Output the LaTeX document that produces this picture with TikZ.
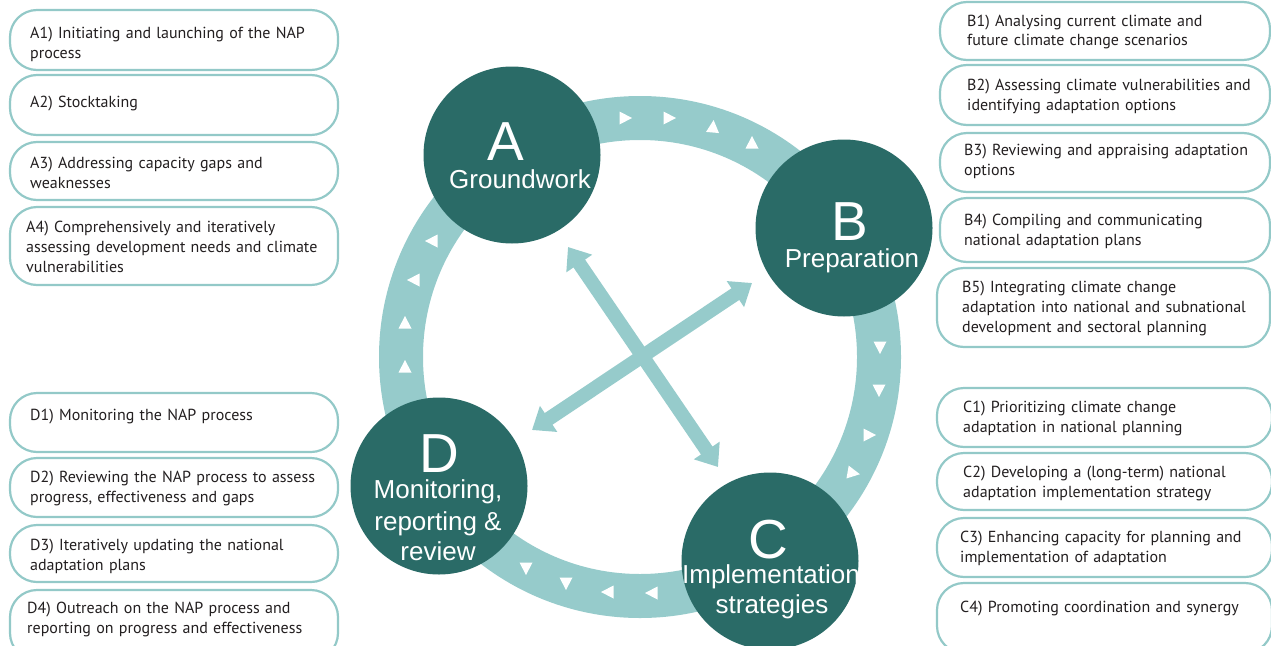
\documentclass[tikz,border=0pt]{standalone}
\usepackage{fontspec}
\setmainfont{PT Sans}
\newfontfamily\circfont{Liberation Sans}
\usetikzlibrary{arrows.meta}
\definecolor{darkteal}{HTML}{2A6B67}
\definecolor{lightteal}{HTML}{96CBCB}
\definecolor{boxline}{HTML}{93C9C8}
\definecolor{txtcol}{HTML}{231F20}
\newcommand\ringtri[4]{\fill[white,shift={(#2,#3)},rotate=#4] (7,0) -- (-5.5,6.5) -- (-5.5,-6.5) -- cycle coordinate (#1);}
\begin{document}
\begin{tikzpicture}[x=1pt,y=-1pt,
  stepbox/.style={draw=boxline,line width=2.2pt,rounded corners=27pt,fill=white,anchor=north west,inner sep=0pt,outer sep=0pt},
  steptxt/.style={anchor=base west,inner sep=0pt,text width=320pt,align=left,font=\fontsize{16}{20}\selectfont,text=txtcol},
  phase/.style={circle,fill=darkteal,minimum size=177pt,inner sep=0pt},
  bigletter/.style={text=white,font=\circfont\fontsize{55}{55}\selectfont,anchor=base,inner sep=0pt,text depth=0pt,text height=38pt},
  phasename/.style={text=white,font=\circfont\fontsize{26}{31}\selectfont,anchor=base,inner sep=0pt,text height=17pt,text depth=4pt},
  ringline/.style={draw=lightteal,line width=44pt},
  cross/.style={draw=lightteal,line width=14pt,{Triangle[length=20pt,width=30pt]}-{Triangle[length=20pt,width=30pt]}},
]
\useasboundingbox (0,0) rectangle (1271,645);

% ring
\coordinate (ringc) at (640,357);
\draw[ringline] (ringc) circle[radius=239];

% cross arrows
\coordinate (x1) at (568,247);
\coordinate (x2) at (718,467);
\coordinate (y1) at (532,430);
\coordinate (y2) at (752,283);
\draw[cross] (x1) -- (x2);
\draw[cross] (y1) -- (y2);

% triangles on ring
\ringtri{t1}{625}{118}{0}
\ringtri{t2}{669}{118}{0}
\ringtri{t3}{713}{127}{85}
\ringtri{t4}{752}{143}{90}
\ringtri{t5}{880}{347}{-90}
\ringtri{t6}{879}{390}{-90}
\ringtri{t7}{869}{435}{0}
\ringtri{t8}{853}{473}{-10}
\ringtri{t9}{526}{568}{-90}
\ringtri{t10}{566}{583}{-90}
\ringtri{t11}{608}{592}{180}
\ringtri{t12}{652}{593}{180}
\ringtri{t13}{432}{241}{180}
\ringtri{t14}{414}{280}{180}
\ringtri{t15}{405}{323}{90}
\ringtri{t16}{405}{367}{90}

% phase circles
\node[phase] (A) at (512,155) {};
\node[phase] (B) at (844,228) {};
\node[phase] (C) at (770,561) {};
\node[phase] (D) at (439,486) {};

\node[bigletter] (Al) at (506,160) {A};
\node[phasename] (An) at (520,188) {Groundwork};
\node[bigletter] (Bl) at (850,240) {B};
\node[phasename] (Bn) at (852,267) {Preparation};
\node[bigletter] (Cl) at (768,558) {C};
\node[phasename] (Cn) at (771,583) {Implementation};
\node[phasename] (Cn2) at (772,613) {strategies};
\node[bigletter] (Dl) at (439,472) {D};
\node[phasename] (Dn) at (438,498) {Monitoring,};
\node[phasename] (Dn2) at (438,530) {reporting \&};
\node[phasename] (Dn3) at (438,560) {review};

% A boxes
\node[stepbox,minimum width=328pt,minimum height=60pt] (A1) at (10,10) {};
\node[stepbox,minimum width=328pt,minimum height=60pt] (A2) at (10,75) {};
\node[stepbox,minimum width=328pt,minimum height=58pt] (A3) at (10,142) {};
\node[stepbox,minimum width=328pt,minimum height=78pt] (A4) at (10,207) {};
\node[steptxt] (A1t) at (30,38) {A1) Initiating and launching of the NAP\\process};
\node[steptxt] (A2t) at (30,107) {A2) Stocktaking};
\node[steptxt] (A3t) at (30,168) {A3) Addressing capacity gaps and\\weaknesses};
\node[steptxt] (A4t) at (26,232) {A4) Comprehensively and iteratively\\assessing development needs and climate\\vulnerabilities};

% B boxes
\node[stepbox,minimum width=330pt,minimum height=58pt] (B1) at (940,2) {};
\node[stepbox,minimum width=330pt,minimum height=60pt] (B2) at (940,65) {};
\node[stepbox,minimum width=330pt,minimum height=59pt] (B3) at (940,133) {};
\node[stepbox,minimum width=330pt,minimum height=64pt] (B4) at (940,198) {};
\node[stepbox,minimum width=333pt,minimum height=79pt] (B5) at (937,268) {};
\node[steptxt] (B1t) at (967,26) {B1) Analysing current climate and\\future climate change scenarios};
\node[steptxt] (B2t) at (967,90) {B2) Assessing climate vulnerabilities and\\identifying adaptation options};
\node[steptxt] (B3t) at (964,155) {B3) Reviewing and appraising adaptation\\options};
\node[steptxt] (B4t) at (964,225) {B4) Compiling and communicating\\national adaptation plans};
\node[steptxt] (B5t) at (962,292) {B5) Integrating climate change\\adaptation into national and subnational\\development and sectoral planning};

% C boxes
\node[stepbox,minimum width=335pt,minimum height=59pt] (C1) at (937,388) {};
\node[stepbox,minimum width=335pt,minimum height=57pt] (C2) at (937,453) {};
\node[stepbox,minimum width=335pt,minimum height=59pt] (C3) at (937,518) {};
\node[stepbox,minimum width=335pt,minimum height=70pt] (C4) at (937,583) {};
\node[steptxt] (C1t) at (963,412) {C1) Prioritizing climate change\\adaptation in national planning};
\node[steptxt] (C2t) at (963,477) {C2) Developing a (long-term) national\\adaptation implementation strategy};
\node[steptxt] (C3t) at (960,542) {C3) Enhancing capacity for planning and\\implementation of adaptation};
\node[steptxt] (C4t) at (960,612) {C4) Promoting coordination and synergy};

% D boxes
\node[stepbox,minimum width=328pt,minimum height=59pt] (D1) at (10,393) {};
\node[stepbox,minimum width=328pt,minimum height=59pt] (D2) at (10,458) {};
\node[stepbox,minimum width=328pt,minimum height=57pt] (D3) at (10,525) {};
\node[stepbox,minimum width=328pt,minimum height=70pt] (D4) at (10,590) {};
\node[steptxt] (D1t) at (30,420) {D1) Monitoring the NAP process};
\node[steptxt] (D2t) at (30,482) {D2) Reviewing the NAP process to assess\\progress, effectiveness and gaps};
\node[steptxt] (D3t) at (30,550) {D3) Iteratively updating the national\\adaptation plans};
\node[steptxt] (D4t) at (27,613) {D4) Outreach on the NAP process and\\reporting on progress and effectiveness};
\end{tikzpicture}
\end{document}
